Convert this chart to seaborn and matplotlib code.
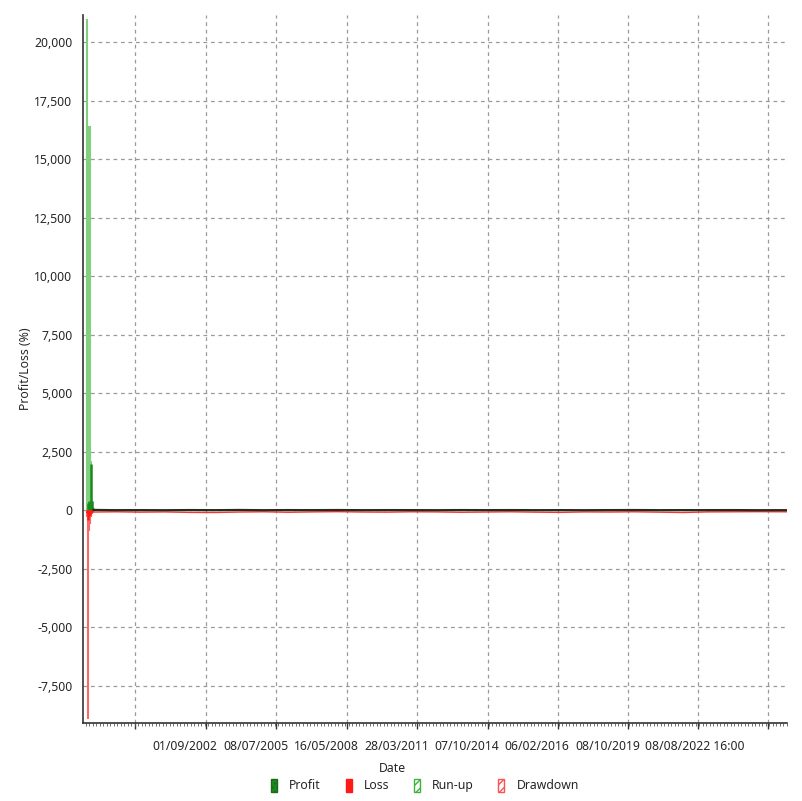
import matplotlib
matplotlib.use("Agg")
import numpy as np
import pandas as pd
import seaborn as sns
import matplotlib.pyplot as plt
from matplotlib.patches import Patch
from matplotlib.ticker import FuncFormatter, MultipleLocator

# Datos (fechas en años decimales)
spike_years = [1997.87, 1997.91, 1997.95, 1997.99, 1998.03, 1998.07, 1998.11]
runup = [21000, 16400, 16400, 16400, 2100, 420, 150]
profit_spike = [0, 300, 400, 250, 2000, 380, 120]
drawdown = [-300, -8900, -900, -600, -300, -150, -60]
loss_spike = [-100, -400, -250, -200, -120, -60, -30]

flat_years = [1998.1, 1999.0, 2000.0, 2001.0, 2002.0, 2003.0, 2004.0, 2005.0, 2006.0,
              2007.0, 2008.0, 2009.0, 2010.0, 2011.0, 2012.0, 2013.0, 2014.0, 2015.0,
              2016.0, 2017.0, 2018.0, 2019.0, 2020.0, 2021.0, 2022.0, 2023.0, 2024.0,
              2025.0, 2026.2]
flat_profit = [20, 10, 12, 8, 15, 10, 18, 9, 14, 11, 16, 10, 13, 12, 9, 15, 11, 14,
               10, 12, 9, 13, 16, 10, 12, 11, 14, 9, 10]
flat_loss = [-70, -60, -75, -65, -85, -90, -70, -60, -80, -65, -55, -70, -75, -60,
             -65, -80, -70, -60, -75, -85, -65, -70, -60, -75, -90, -65, -60, -55, -60]

tick_years = [1999.79, 2002.67, 2005.52, 2008.37, 2011.24, 2014.09, 2016.93, 2019.77,
              2022.60, 2025.44]
label_years = [2000.52, 2003.37, 2006.22, 2009.09, 2011.94, 2014.78, 2017.62, 2020.45]
tick_labels = ["01/09/2002", "08/07/2005", "16/05/2008", "28/03/2011", "07/10/2014",
               "06/02/2016", "08/10/2019", "08/08/2022 16:00"]

sns.set_style("white")
plt.rcParams['font.family'] = ['Noto Sans', 'DejaVu Sans']

fig = plt.figure(figsize=(8.02, 8.01), dpi=100)
ax = fig.add_axes([0.1035, 0.0974, 0.8775, 0.8836])

# Barras de run-up / drawdown / profit / loss
ax.vlines(spike_years, 0, runup, color='#7fd07f', linewidth=1.5, zorder=3)
ax.vlines(spike_years, 0, drawdown, color='#ff6666', linewidth=1.5, zorder=3)
ax.vlines(spike_years, 0, profit_spike, color='#1a8a1a', linewidth=1.8, zorder=4)
ax.vlines(spike_years, 0, loss_spike, color='#ff1a1a', linewidth=1.8, zorder=4)

df_loss = pd.DataFrame({"Date": flat_years, "Value": flat_loss})
df_profit = pd.DataFrame({"Date": flat_years, "Value": flat_profit})
sns.lineplot(data=df_loss, x="Date", y="Value", color="#ff3030", linewidth=1.0, ax=ax, zorder=5)
sns.lineplot(data=df_profit, x="Date", y="Value", color="#1f2f1f", linewidth=1.6, ax=ax, zorder=6)

xlim = (1997.69, 2026.2)
ax.set_xlim(*xlim)
ax.set_ylim(-9080, 21150)
ax.set_xticks(tick_years)
ax.set_xticklabels([])
ax.xaxis.set_minor_locator(MultipleLocator(0.142))
ax.yaxis.set_major_locator(MultipleLocator(2500))
ax.yaxis.set_major_formatter(FuncFormatter(lambda v, p: f"{int(v):,}"))
ax.tick_params(axis='y', labelsize=8.8, length=4, width=1, color='#333333', pad=3.5)
ax.tick_params(axis='x', which='major', length=4, width=1, color='#333333')
ax.tick_params(axis='x', which='minor', length=2, width=0.6, color='#555555', bottom=True)

# etiquetas de fecha (desplazadas respecto a las marcas)
ax2 = ax.twiny()
ax2.set_xlim(*xlim)
ax2.xaxis.set_ticks_position('bottom')
ax2.set_xticks(label_years)
ax2.set_xticklabels(tick_labels, ha='left', fontsize=8.8)
ax2.tick_params(axis='x', length=0, pad=12)
ax2.xaxis.set_minor_locator(matplotlib.ticker.NullLocator())
for s in ax2.spines.values():
    s.set_visible(False)

ax.grid(True, which='major', color='#9a9a9a', linestyle=(0, (3, 3)), linewidth=0.9)
for s in ['top', 'right']:
    ax.spines[s].set_visible(False)
for s in ['left', 'bottom']:
    ax.spines[s].set_color('#333333')
    ax.spines[s].set_linewidth(1.2)

ax.set_xlabel("Date", fontsize=8.8)
ax.xaxis.set_label_coords(0.44, -0.055)
ax.set_ylabel("Profit/Loss (%)", fontsize=8.8, labelpad=2)

handles = [
    Patch(facecolor='#1a8a1a', edgecolor='#1a6a1a', hatch='....', label='Profit'),
    Patch(facecolor='#ff1a1a', edgecolor='#ff1a1a', label='Loss'),
    Patch(facecolor='white', edgecolor='#3cb43c', hatch='////', label='Run-up'),
    Patch(facecolor='white', edgecolor='#ff5050', hatch='////', label='Drawdown'),
]
fig.legend(handles=handles, loc='lower center', bbox_to_anchor=(0.53, -0.003), ncol=4,
           frameon=False, fontsize=8.8, handlelength=0.5, handleheight=1.3,
           columnspacing=2.0, handletextpad=1.0)

fig.savefig("out.png", dpi=100)
